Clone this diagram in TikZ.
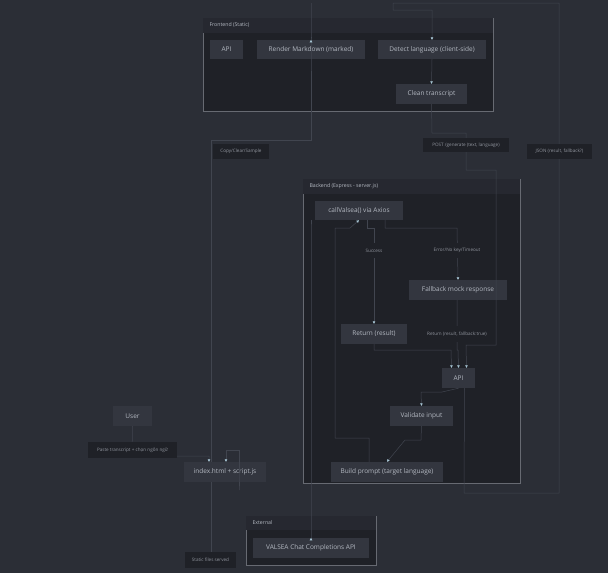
\documentclass[tikz,border=0pt]{standalone}
\usepackage{fontspec}
\setmainfont{Open Sans}
\usetikzlibrary{arrows.meta}
\definecolor{bg}{HTML}{2B2E36}
\definecolor{cl}{HTML}{1F2127}
\definecolor{clh}{HTML}{262830}
\definecolor{nd}{HTML}{33363F}
\definecolor{tx}{HTML}{B4B9C2}
\definecolor{ln}{HTML}{41454F}
\definecolor{tip}{HTML}{A9C7D6}
\begin{document}
\begin{tikzpicture}[x=1pt,y=-1pt,
  box/.style={fill=nd,text=tx,font=\fontsize{6.5}{7}\selectfont,inner sep=0},
  lab/.style={fill=cl,text=tx!75!bg,font=\fontsize{4.6}{5}\selectfont,inner sep=0},
  clu/.style={fill=cl,draw=ln!80,line width=0.4pt},
  ctitle/.style={text=tx,font=\fontsize{5.2}{6}\selectfont,anchor=west},
  e/.style={draw=ln,line width=0.5pt},
  ea/.style={e,-{Triangle[length=2.5pt,width=2.5pt,color=tip]}}]
\fill[bg] (0,0) rectangle (608,573);
\useasboundingbox (0,0) rectangle (608,573);
% clusters
\filldraw[clu] (203,18) rectangle (493,111);
\fill[clh] (203.3,18.3) rectangle (492.7,33);
\node[ctitle] (tf) at (206,25) {Frontend (Static)};
\filldraw[clu] (303,179) rectangle (520,483);
\fill[clh] (303.3,179.3) rectangle (519.7,194);
\node[ctitle] (tb) at (306,186.5) {Backend (Express - server.js)};
\filldraw[clu] (246,516) rectangle (376,565);
\fill[clh] (246.3,516.3) rectangle (375.7,530);
\node[ctitle] (te) at (249,523) {External};
% nodes
\newcommand{\bx}[6]{\node[box,minimum width=#4-#2,minimum height=#5-#3] (#1) at ({(#2+#4)/2},{(#3+#5)/2}) {#6};}
\newcommand{\lb}[6]{\node[lab,minimum width=#4-#2,minimum height=#5-#3] (#1) at ({(#2+#4)/2},{(#3+#5)/2}) {#6};}
\bx{fapi}{210}{40}{243}{59}{API}
\bx{rend}{257}{40}{365}{59}{Render Markdown (marked)}
\bx{det}{378}{40}{486}{59}{Detect language (client-side)}
\bx{clean}{396}{84}{467}{104}{Clean transcript}
\bx{call}{315}{201}{403}{220}{callValsea() via Axios}
\bx{fall}{409}{280}{507}{300}{Fallback mock response}
\bx{ret}{341}{324}{407}{344}{Return (result)}
\bx{bapi}{442}{368}{475}{388}{API}
\bx{val}{390}{406}{453}{426}{Validate input}
\bx{build}{331}{462}{443}{482}{Build prompt (target language)}
\bx{user}{113}{406}{152}{426}{User}
\bx{idx}{184}{462}{266}{482}{index.html + script.js}
\bx{vals}{253}{538}{369}{558}{VALSEA Chat Completions API}
% edges
\coordinate (c1) at (132,456);
\draw[ea] (user.south) -- (c1) -| ([xshift=-16pt]idx.north);
\draw[ea] ([xshift=-14pt]idx.north) -- (211,140) -- (311,140) -- (311,3) |- (rend.north);
\draw[ea] ([xshift=14pt]idx.south) -- (239,490) -- (239,450) -| ([xshift=1pt]idx.north);
\draw[ea] (bapi.south) ++(6,0) -- (464,493) -- (559,493) -- (559,3) -- (393,3) -- (393,10) -- (432,10) -- (det.north);
\draw[ea] (det.south) -- (clean.north);
\draw[ea] (clean.south) -- (432,133) -- (466,133) -- (466,170) -- (496,170) -- (496,345) -- (466,345) -- ([xshift=8pt]bapi.north);
\draw[ea] (bapi.south) -- (442,392) -- (421,392) -- (val.north);
\draw[ea] (val.south) -- (421,440) -- (405,440) -- (build.north);
\draw[ea] (369,462) -- (369,438) -- (335,438) -- (335,228) -- (350,228) -- (call.south);
\draw[ea] (311,220) -- (311,228) -- (311,538) -- (vals.north);
\draw[ea] (367,220) -- (367,228) -- (374,228) -- (ret.north);
\draw[ea] (385,220) -- (385,228) -- (457,228) -- (fall.north);
\draw[ea] (457,300) -- (457,350) -- (458,350) -- (bapi.north);
\draw[ea] (374,344) -- (374,350) -- (451,350) -- ([xshift=-7pt]bapi.north);
\draw[e] ([xshift=-14pt]idx.south) -- (211,552);
% edge labels
\lb{l1}{88}{442}{177}{458}{Paste transcript + chọn ngôn ngữ}
\lb{l2}{213}{144}{269}{159}{Copy/Clear/Sample}
\lb{l3}{423}{138}{509}{152}{POST /generate (text, language)}
\lb{l4}{527}{144}{592}{159}{JSON (result, fallback?)}
\lb{l5}{358}{243}{390}{258}{Success}
\lb{l6}{426}{243}{488}{258}{Error/No key/Timeout}
\lb{l7}{419}{326}{495}{342}{Return (result, fallback:true)}
\lb{l8}{185}{552}{236}{568}{Static files served}
\end{tikzpicture}
\end{document}
